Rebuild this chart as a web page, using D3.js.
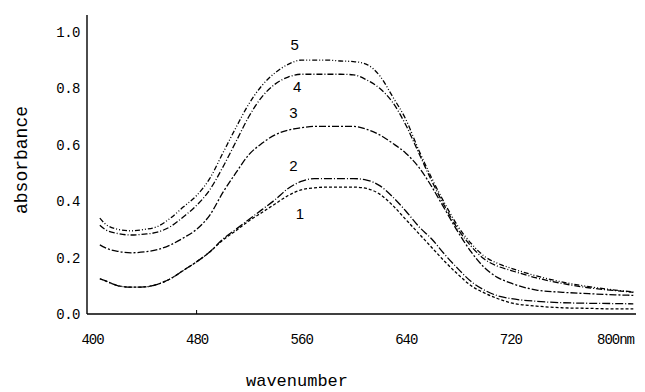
<!DOCTYPE html>
<html>
<head>
<meta charset="utf-8">
<script src="https://cdn.jsdelivr.net/npm/d3@7"></script>
<style>
  html, body { margin: 0; padding: 0; background: #fff; }
  svg { display: block; }
</style>
</head>
<body>
<svg id="chart" width="645" height="392"></svg>
<script>
// ---- data ----
const wavelengths = [406,410,420,430,440,450,460,470,480,490,500,510,520,530,540,550,560,570,580,590,600,610,620,630,640,650,660,670,680,690,700,710,720,740,760,780,800,814];

const curve1 = [.125,.118,.10,.095,.096,.105,.125,.155,.185,.22,.262,.295,.33,.36,.39,.42,.44,.447,.45,.45,.45,.445,.425,.385,.335,.285,.235,.185,.14,.10,.075,.055,.04,.028,.022,.02,.018,.018];
const curve2 = [.125,.118,.10,.095,.096,.105,.125,.155,.185,.22,.265,.30,.335,.37,.405,.445,.47,.48,.48,.48,.48,.475,.455,.415,.365,.31,.265,.21,.16,.115,.085,.065,.055,.045,.04,.038,.037,.036];
const curve3 = [.245,.235,.222,.217,.22,.228,.245,.27,.30,.35,.43,.50,.565,.605,.635,.652,.66,.665,.665,.665,.665,.655,.635,.605,.57,.52,.45,.37,.29,.22,.165,.13,.11,.085,.077,.072,.068,.066];
const curve4 = [.315,.30,.285,.28,.283,.29,.31,.345,.385,.44,.52,.61,.70,.77,.815,.84,.85,.85,.85,.85,.848,.83,.80,.75,.67,.57,.47,.38,.30,.24,.195,.17,.155,.128,.108,.093,.083,.077];
const curve5 = [.34,.32,.30,.295,.30,.31,.34,.38,.42,.48,.57,.66,.745,.81,.855,.885,.90,.90,.90,.897,.895,.885,.845,.77,.69,.58,.48,.39,.31,.25,.205,.18,.163,.135,.113,.097,.085,.078];

const seriesNames = ["1","2","3","4","5"];
const seriesValues = [curve1, curve2, curve3, curve4, curve5];
const seriesDash = ["3,2", "8,2,1,2", "7,2,2,2", "6,2,1,2", "5,2,1,2,1,2"];

// curve label anchors (wavelength, absorbance)
const labelNm  = [559, 554, 554, 557, 555];
const labelAbs = [0.355, 0.528, 0.716, 0.805, 0.957];

const xTickValues = [400, 480, 560, 640, 720, 800];
const xTickLabels = ["400", "480", "560", "640", "720", "800nm"];
const yTickValues = [0, 0.2, 0.4, 0.6, 0.8, 1.0];
const yTickLabels = ["0.0", "0.2", "0.4", "0.6", "0.8", "1.0"];

const xTitle = "wavenumber";
const yTitle = "absorbance";

// ---- chart ----
const svg = d3.select("#chart");
svg.append("rect").attr("width", 645).attr("height", 392).attr("fill", "#fff");

const x = d3.scaleLinear().domain([400, 800]).range([92, 615]);
const y = d3.scaleLinear().domain([0, 1.06]).range([314, 15]);
const axisX0 = 87;

const mono = "'Liberation Mono', 'DejaVu Sans Mono', monospace";

// axis lines
svg.append("line").attr("x1", axisX0).attr("x2", 636).attr("y1", y(0)).attr("y2", y(0))
  .attr("stroke", "#000").attr("stroke-width", 1.6);
svg.append("line").attr("x1", axisX0).attr("x2", axisX0).attr("y1", y(0)).attr("y2", y(1.06))
  .attr("stroke", "#000").attr("stroke-width", 1.4);

// bottom axis
const gx = svg.append("g").attr("transform", `translate(0,${y(0)})`)
  .call(d3.axisBottom(x).tickValues(xTickValues).tickSize(0).tickPadding(20)
    .tickFormat((d, i) => xTickLabels[i]));
gx.select(".domain").remove();
gx.selectAll("text").attr("font-family", mono).attr("font-size", 14)
  .attr("letter-spacing", -1).attr("fill", "#000");
// small tick mark at 480
svg.append("line").attr("x1", x(480)).attr("x2", x(480)).attr("y1", y(0)).attr("y2", y(0) - 4)
  .attr("stroke", "#000").attr("stroke-width", 1);

// left axis
const gy = svg.append("g").attr("transform", `translate(${axisX0},0)`)
  .call(d3.axisLeft(y).tickValues(yTickValues).tickSize(0).tickPadding(7)
    .tickFormat((d, i) => yTickLabels[i]));
gy.select(".domain").remove();
gy.selectAll("text").attr("font-family", mono).attr("font-size", 14)
  .attr("letter-spacing", -0.5).attr("fill", "#000");

// lines
const line = d3.line()
  .x(d => x(d[0]))
  .y(d => y(d[1]))
  .curve(d3.curveMonotoneX);

seriesValues.forEach((vals, i) => {
  const pts = wavelengths.map((w, j) => [w, vals[j]]);
  svg.append("path").datum(pts)
    .attr("d", line)
    .attr("fill", "none")
    .attr("stroke", "#000")
    .attr("stroke-width", 1.3)
    .attr("stroke-dasharray", seriesDash[i]);
});

// curve labels
seriesNames.forEach((n, i) => {
  svg.append("text")
    .attr("x", x(labelNm[i])).attr("y", y(labelAbs[i]))
    .attr("text-anchor", "middle").attr("dominant-baseline", "central")
    .attr("font-family", "'Liberation Sans', Arial, sans-serif").attr("font-size", 15)
    .attr("fill", "#000").text(n);
});

// titles
svg.append("text").attr("x", 297).attr("y", 386)
  .attr("text-anchor", "middle").attr("font-family", mono).attr("font-size", 17)
  .attr("fill", "#000").text(xTitle);
svg.append("text").attr("transform", "translate(27,160) rotate(-90)")
  .attr("text-anchor", "middle").attr("font-family", mono).attr("font-size", 18)
  .attr("fill", "#000").text(yTitle);
</script>
</body>
</html>
